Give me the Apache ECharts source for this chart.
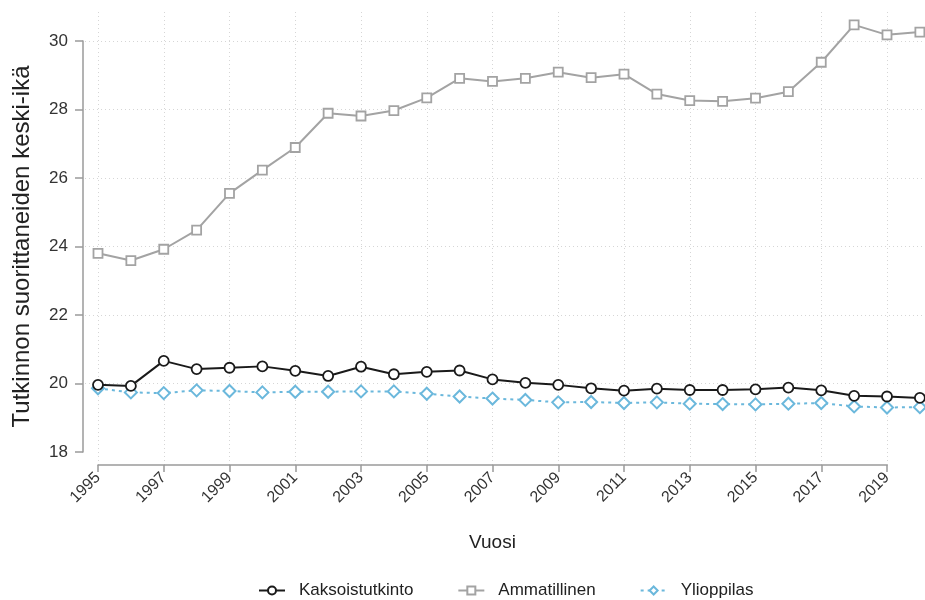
<!DOCTYPE html>
<html>
<head>
<meta charset="utf-8">
<script src="https://cdn.jsdelivr.net/npm/echarts@6/dist/echarts.min.js"></script>
<style>
  html, body { margin: 0; padding: 0; background: #fff; }
  #main { width: 925px; height: 600px; }
</style>
</head>
<body>
<div id="main"></div>
<script>
var years = [1995, 1996, 1997, 1998, 1999, 2000, 2001, 2002, 2003, 2004, 2005, 2006, 2007,
  2008, 2009, 2010, 2011, 2012, 2013, 2014, 2015, 2016, 2017, 2018, 2019, 2020];

var kaksoistutkinto = [19.96, 19.93, 20.66, 20.42, 20.46, 20.50, 20.37, 20.22, 20.49, 20.27, 20.34, 20.38, 20.12,
  20.02, 19.96, 19.86, 19.79, 19.85, 19.81, 19.81, 19.83, 19.88, 19.80, 19.64, 19.62, 19.58];
var ammatillinen = [23.80, 23.59, 23.92, 24.48, 25.55, 26.23, 26.89, 27.89, 27.81, 27.97, 28.34, 28.91, 28.82,
  28.91, 29.09, 28.93, 29.03, 28.45, 28.26, 28.24, 28.33, 28.52, 29.38, 30.47, 30.18, 30.26];
var ylioppilas = [19.86, 19.74, 19.72, 19.80, 19.78, 19.74, 19.76, 19.76, 19.77, 19.77, 19.70, 19.62, 19.56,
  19.52, 19.45, 19.46, 19.43, 19.45, 19.41, 19.40, 19.39, 19.41, 19.43, 19.33, 19.30, 19.31];

var seriesNames = ['Kaksoistutkinto', 'Ammatillinen', 'Ylioppilas'];

function pairs(vals) {
  return years.map(function (y, i) { return [y, vals[i]]; });
}

var font = 'Liberation Sans, Arial, sans-serif';
var gridLine = { show: true, lineStyle: { color: '#d6d6d6', type: [1, 3], width: 1 } };
var hidden = { show: false };
var axisGrey = { color: '#9a9a9a', width: 1.5 };

var chart = echarts.init(document.getElementById('main'));

chart.setOption({
  backgroundColor: '#fff',
  animation: false,
  textStyle: { fontFamily: font },
  grid: [
    // axes only (Stata style: lines span 1995-2019 and 18-30)
    { left: 98, right: 38, top: 41, bottom: 148 },
    // vertical grid lines (taller)
    { left: 98, right: 38, top: 12, bottom: 135 },
    // horizontal grid lines (wider)
    { left: 85, right: 0, top: 41, bottom: 216.5 },
    // data, runs on to 2020 at the right edge
    { left: 98, right: 0, top: 41, bottom: 148 }
  ],
  xAxis: [
    {
      gridIndex: 0, type: 'value', min: 1995, max: 2019, interval: 2, offset: 13,
      name: 'Vuosi', nameLocation: 'middle', nameGap: 68,
      nameTextStyle: { fontSize: 19, color: '#222', fontFamily: font },
      axisLine: { show: true, lineStyle: axisGrey },
      axisTick: { show: true, length: 7, lineStyle: axisGrey },
      axisLabel: { rotate: 45, fontSize: 16, color: '#333', margin: 10, formatter: function (v) { return String(v); } },
      splitLine: hidden
    },
    {
      gridIndex: 1, type: 'value', min: 1995, max: 2019, interval: 2,
      axisLine: hidden, axisTick: hidden, axisLabel: hidden, splitLine: gridLine
    },
    {
      gridIndex: 2, type: 'value', min: 0, max: 1,
      axisLine: hidden, axisTick: hidden, axisLabel: hidden, splitLine: hidden
    },
    {
      gridIndex: 3, type: 'value', min: 1995, max: 2020.156,
      axisLine: hidden, axisTick: hidden, axisLabel: hidden, splitLine: hidden
    }
  ],
  yAxis: [
    {
      gridIndex: 0, type: 'value', min: 18, max: 30, interval: 2, offset: 15,
      name: 'Tutkinnon suorittaneiden keski-ikä', nameLocation: 'middle', nameGap: 49,
      nameTextStyle: { fontSize: 24, color: '#222', fontFamily: font },
      axisLine: { show: true, lineStyle: axisGrey },
      axisTick: { show: true, length: 8, lineStyle: axisGrey },
      axisLabel: { fontSize: 17, color: '#333', margin: 15 },
      splitLine: hidden
    },
    {
      gridIndex: 1, type: 'value', min: 0, max: 1,
      axisLine: hidden, axisTick: hidden, axisLabel: hidden, splitLine: hidden
    },
    {
      gridIndex: 2, type: 'value', min: 20, max: 30, interval: 2,
      axisLine: hidden, axisTick: hidden, axisLabel: hidden, splitLine: gridLine
    },
    {
      gridIndex: 3, type: 'value', min: 18, max: 30,
      axisLine: hidden, axisTick: hidden, axisLabel: hidden, splitLine: hidden
    }
  ],
  legend: {
    bottom: 1,
    left: 258,
    padding: 0,
    itemGap: 44,
    itemWidth: 26,
    itemHeight: 10,
    textStyle: { fontSize: 17, color: '#222', fontFamily: font, padding: [0, 0, 0, 9] },
    data: seriesNames
  },
  series: [
    {
      name: seriesNames[1], type: 'line', xAxisIndex: 3, yAxisIndex: 3, clip: false,
      data: pairs(ammatillinen),
      symbol: 'rect', symbolSize: 9,
      lineStyle: { color: '#a3a3a3', width: 2 },
      itemStyle: { color: '#fff', borderColor: '#a3a3a3', borderWidth: 1.8 },
      z: 3
    },
    {
      name: seriesNames[2], type: 'line', xAxisIndex: 3, yAxisIndex: 3, clip: false,
      data: pairs(ylioppilas),
      symbol: 'diamond', symbolSize: 12,
      lineStyle: { color: '#6bb8dc', width: 2, type: [3, 4] },
      itemStyle: { color: '#fff', borderColor: '#6bb8dc', borderWidth: 2 },
      z: 3
    },
    {
      name: seriesNames[0], type: 'line', xAxisIndex: 3, yAxisIndex: 3, clip: false,
      data: pairs(kaksoistutkinto),
      symbol: 'circle', symbolSize: 10,
      lineStyle: { color: '#1a1a1a', width: 2 },
      itemStyle: { color: '#fff', borderColor: '#1a1a1a', borderWidth: 1.8 },
      z: 4
    }
  ]
});
</script>
</body>
</html>
